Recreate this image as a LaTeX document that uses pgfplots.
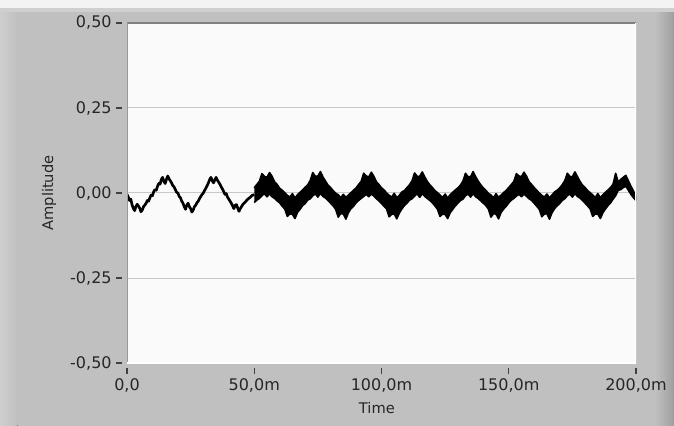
\documentclass[border=0pt]{standalone}
\usepackage{pgfplots}
\pgfplotsset{compat=1.18}
\usepackage{pgfplotstable}
\usepackage{fontspec}
\setmainfont{DejaVu Sans}
\definecolor{panel}{HTML}{C0C0C0}
\definecolor{strip}{HTML}{F3F3F3}
\definecolor{plotbg}{HTML}{FAFAFA}
\definecolor{gridc}{HTML}{C8C8C8}

\pgfplotstableread{
t y
0 -0.004
0.5 -0.012
1 -0.022
1.5 -0.018
2 -0.035
2.5 -0.045
3 -0.052
3.5 -0.040
4 -0.033
4.5 -0.038
5 -0.045
5.5 -0.055
6 -0.050
6.5 -0.040
7 -0.036
7.5 -0.030
8 -0.022
8.5 -0.024
9 -0.014
9.5 -0.006
10 -0.008
10.5 0.004
11 0.010
11.5 0.008
12 0.020
12.5 0.028
13 0.026
13.5 0.040
14 0.046
14.5 0.034
15 0.028
15.5 0.040
16 0.050
16.5 0.042
17 0.036
17.5 0.030
18 0.022
18.5 0.018
19 0.010
19.5 0.002
20 0.000
20.5 -0.010
21 -0.014
21.5 -0.024
22 -0.030
22.5 -0.040
23 -0.048
23.5 -0.036
24 -0.030
24.5 -0.040
25 -0.046
25.5 -0.056
26 -0.050
26.5 -0.040
27 -0.036
27.5 -0.028
28 -0.024
28.5 -0.016
29 -0.010
29.5 -0.004
30 0.000
30.5 0.008
31 0.014
31.5 0.022
32 0.030
32.5 0.040
33 0.046
33.5 0.036
34 0.030
34.5 0.038
35 0.046
35.5 0.038
36 0.032
36.5 0.026
37 0.018
37.5 0.012
38 0.004
38.5 -0.004
39 -0.002
39.5 -0.012
40 -0.018
40.5 -0.024
41 -0.030
41.5 -0.038
42 -0.046
42.5 -0.036
43 -0.034
43.5 -0.044
44 -0.054
44.5 -0.046
45 -0.040
45.5 -0.034
46 -0.030
46.5 -0.026
47 -0.022
47.5 -0.018
48 -0.015
48.5 -0.012
49 -0.008
49.5 -0.006
50 -0.005
}\thin

% noisy band 50-200 ms: upper envelope forward, lower envelope backward
\pgfplotstableread{
t y
50 0.015
51 0.025
52 0.034
53 0.057
54 0.049
55 0.046
56 0.060
57 0.049
58 0.033
59 0.025
60 0.014
61 0.008
62 0.001
63 -0.007
64 -0.012
65 -0.002
66 -0.015
67 -0.005
68 0.002
69 0.009
70 0.017
71 0.024
72 0.037
73 0.060
74 0.049
75 0.050
76 0.063
77 0.047
78 0.035
79 0.023
80 0.016
81 0.007
82 -0.001
83 -0.005
84 -0.014
85 -0.004
86 -0.013
87 -0.006
88 0.001
89 0.008
90 0.015
91 0.025
92 0.034
93 0.058
94 0.050
95 0.047
96 0.061
97 0.049
98 0.033
99 0.025
100 0.015
101 0.009
102 0.000
103 -0.007
104 -0.012
105 -0.001
106 -0.014
107 -0.007
108 0.003
109 0.007
110 0.016
111 0.024
112 0.036
113 0.059
114 0.049
115 0.049
116 0.062
117 0.047
118 0.034
119 0.024
120 0.016
121 0.007
122 0.001
123 -0.006
124 -0.013
125 -0.003
126 -0.015
127 -0.005
128 0.002
129 0.009
130 0.015
131 0.023
132 0.035
133 0.058
134 0.048
135 0.048
136 0.063
137 0.048
138 0.035
139 0.024
140 0.015
141 0.008
142 -0.001
143 -0.006
144 -0.014
145 -0.002
146 -0.013
147 -0.006
148 0.001
149 0.008
150 0.016
151 0.025
152 0.034
153 0.057
154 0.050
155 0.048
156 0.061
157 0.049
158 0.033
159 0.025
160 0.016
161 0.008
162 0.000
163 -0.007
164 -0.012
165 -0.003
166 -0.014
167 -0.006
168 0.003
169 0.008
170 0.015
171 0.024
172 0.036
173 0.058
174 0.049
175 0.047
176 0.062
177 0.048
178 0.034
179 0.023
180 0.016
181 0.007
182 0.001
183 -0.006
184 -0.013
185 -0.002
186 -0.014
187 -0.005
188 0.002
189 0.009
190 0.016
191 0.026
192 0.058
193 0.032
194 0.040
195 0.046
196 0.052
197 0.036
198 0.020
199 0.006
200 -0.010
200 -0.022
199 -0.014
198 -0.004
197 0.008
196 0.020
195 0.016
194 0.010
193 0.008
192 -0.008
191 -0.018
190 -0.029
189 -0.037
188 -0.047
187 -0.058
186 -0.075
185 -0.062
184 -0.062
183 -0.069
182 -0.047
181 -0.038
180 -0.030
179 -0.022
178 -0.015
177 -0.010
176 -0.002
175 -0.012
174 -0.003
173 -0.008
172 -0.017
171 -0.022
170 -0.031
169 -0.038
168 -0.046
167 -0.058
166 -0.077
165 -0.061
164 -0.062
163 -0.070
162 -0.048
161 -0.039
160 -0.030
159 -0.022
158 -0.017
157 -0.010
156 -0.003
155 -0.011
154 -0.004
153 -0.009
152 -0.016
151 -0.021
150 -0.029
149 -0.039
148 -0.047
147 -0.057
146 -0.076
145 -0.062
144 -0.061
143 -0.071
142 -0.047
141 -0.037
140 -0.030
139 -0.023
138 -0.016
137 -0.011
136 -0.002
135 -0.012
134 -0.003
133 -0.008
132 -0.018
131 -0.022
130 -0.030
129 -0.038
128 -0.048
127 -0.058
126 -0.075
125 -0.063
124 -0.062
123 -0.069
122 -0.048
121 -0.038
120 -0.029
119 -0.022
118 -0.016
117 -0.010
116 -0.002
115 -0.013
114 -0.002
113 -0.009
112 -0.017
111 -0.021
110 -0.030
109 -0.037
108 -0.047
107 -0.059
106 -0.076
105 -0.061
104 -0.063
103 -0.070
102 -0.047
101 -0.039
100 -0.031
99 -0.023
98 -0.017
97 -0.009
96 -0.003
95 -0.011
94 -0.004
93 -0.010
92 -0.016
91 -0.022
90 -0.029
89 -0.039
88 -0.046
87 -0.058
86 -0.077
85 -0.062
84 -0.060
83 -0.071
82 -0.048
81 -0.038
80 -0.030
79 -0.022
78 -0.015
77 -0.010
76 -0.001
75 -0.012
74 -0.003
73 -0.008
72 -0.017
71 -0.021
70 -0.031
69 -0.037
68 -0.048
67 -0.057
66 -0.075
65 -0.063
64 -0.061
63 -0.069
62 -0.047
61 -0.039
60 -0.029
59 -0.023
58 -0.016
57 -0.011
56 -0.003
55 -0.011
54 -0.002
53 -0.008
52 -0.016
51 -0.021
50 -0.028
}\band

\begin{document}
\begin{tikzpicture}
\fill[panel] (-100pt,-50pt) rectangle (415pt,276pt);
\fill[left color=black!17, right color=panel] (-100pt,-50pt) rectangle (-82pt,266.25pt);
\fill[left color=panel, right color=black!42] (396pt,-50pt) rectangle (415pt,266.25pt);
\fill[black!19] (-100pt,263pt) rectangle (415pt,266.25pt);
\fill[strip] (-100pt,266.25pt) rectangle (415pt,276pt);
\begin{axis}[
  at={(0,0)}, anchor=south west,
  scale only axis, width=381.75pt, height=255pt,
  xmin=0, xmax=200, ymin=-0.5, ymax=0.5,
  axis background/.style={fill=plotbg},
  axis line style={draw=none},
  ytick={-0.5,-0.25,0,0.25,0.5},
  yticklabels={{-0,50},{-0,25},{0,00},{0,25},{0,50}},
  xtick={0,50,100,150,200},
  xticklabels={{0,0},{50,0m},{100,0m},{150,0m},{200,0m}},
  xtick pos=bottom, ytick pos=left,
  ymajorgrids, grid style={color=gridc, line width=0.75pt, dash pattern=},
  tick align=outside, major tick length=8pt,
  tick style={color=black!75, line width=1pt, dash pattern=on 4.5pt off 20pt},
  yticklabel style={font=\fontsize{12}{14}\selectfont, text=black!85},
  xticklabel style={font=\fontsize{12}{14}\selectfont, text=black!85},
  xlabel={Time},
  xlabel style={at={(rel axis cs:0.491,-0.103)}, anchor=north, font=\fontsize{11}{13}\selectfont, text=black!85},
  ylabel={Amplitude},
  ylabel style={at={(rel axis cs:-0.153,0.5)}, anchor=center, font=\fontsize{11}{13}\selectfont, text=black!85},
]
\addplot[fill=black, draw=black, line width=1.2pt, line join=round] table[x=t, y=y] {\band};
\addplot[black, line width=2pt, line join=round] table[x=t, y=y] {\thin};
\draw[black!50, line width=1.5pt] (rel axis cs:0,1) -- (rel axis cs:1,1);
\draw[black!40, line width=1pt] (rel axis cs:0,0) -- (rel axis cs:0,1);
\draw[white, line width=0.8pt] (rel axis cs:0,0) -- (rel axis cs:1,0) -- (rel axis cs:1,1);
\end{axis}
\pgfresetboundingbox
\useasboundingbox (-95.25pt,-46.5pt) rectangle (410.25pt,272.25pt);
\end{tikzpicture}
\end{document}
